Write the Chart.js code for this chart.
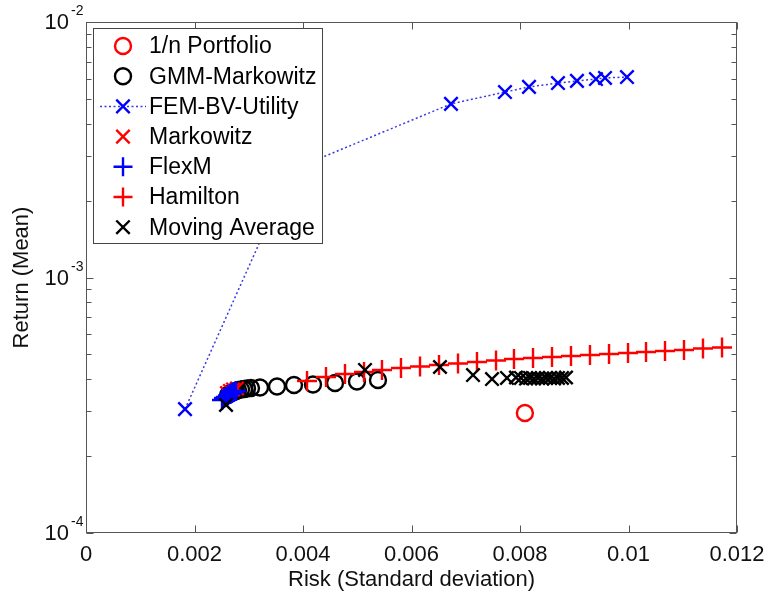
<!DOCTYPE html>
<html>
<head>
<meta charset="utf-8">
<script src="https://cdn.jsdelivr.net/npm/chart.js@4.4.1/dist/chart.umd.min.js"></script>
<style>
html,body{margin:0;padding:0;background:#fff;}
#wrap{width:769px;height:601px;position:relative;}
</style>
</head>
<body>
<div id="wrap"><canvas id="c" width="769" height="601"></canvas></div>
<script>
// ---------------- data ----------------
const seriesNames = ['1/n Portfolio','GMM-Markowitz','FEM-BV-Utility','Markowitz','FlexM','Hamilton','Moving Average'];
const xTickValues = [0, 0.002, 0.004, 0.006, 0.008, 0.01, 0.012];
const yTickExponents = [-4, -3, -2];
const xAxisTitle = 'Risk (Standard deviation)';
const yAxisTitle = 'Return (Mean)';

const oneOverNX = [0.00809];
const oneOverNY = [2.95e-4];

const gmmX = [0.002618,0.002654,0.002691,0.002728,0.002765,0.002802,0.002857,0.002912,0.002968,0.003041,0.003207,0.003521,0.003834,0.004184,0.00459,0.004995,0.005382];
const gmmY = [3.469e-4,3.516e-4,3.548e-4,3.580e-4,3.596e-4,3.629e-4,3.645e-4,3.661e-4,3.678e-4,3.694e-4,3.711e-4,3.745e-4,3.796e-4,3.813e-4,3.865e-4,3.917e-4,3.971e-4];

const femX = [0.001825,0.0038,0.006728,0.007723,0.008166,0.0087,0.00905,0.0094,0.009567,0.009972];
const femY = [3.055e-4,2.64e-3,4.78e-3,5.32e-3,5.57e-3,5.77e-3,5.88e-3,5.98e-3,6.04e-3,6.09e-3];

const markowitzX = [0.002599,0.002654,0.00271,0.002783];
const markowitzY = [3.531e-4,3.596e-4,3.645e-4,3.678e-4];

const flexmX = [0.002507,0.002544,0.002581,0.002618,0.002654,0.002691,0.002728,0.002765];
const flexmY = [3.315e-4,3.376e-4,3.406e-4,3.453e-4,3.499e-4,3.531e-4,3.564e-4,3.596e-4];

const hamiltonX = [0.004074,0.004424,0.004774,0.005125,0.005456,0.005806,0.006157,0.006507,0.006857,0.007207,0.007558,0.007889,0.00824,0.00859,0.00894,0.00929,0.009641,0.009991,0.010323,0.010673,0.011023,0.011373,0.011724];
const hamiltonY = [3.935e-4,4.079e-4,4.19e-4,4.267e-4,4.345e-4,4.424e-4,4.485e-4,4.545e-4,4.607e-4,4.67e-4,4.733e-4,4.797e-4,4.841e-4,4.885e-4,4.929e-4,4.974e-4,5.019e-4,5.064e-4,5.11e-4,5.156e-4,5.202e-4,5.273e-4,5.321e-4];

const movAvgX = [0.002581,0.005143,0.006525,0.007134,0.007484,0.00776,0.007926,0.008018,0.008111,0.008184,0.008258,0.008332,0.008406,0.008479,0.008553,0.008627,0.0087,0.008774,0.008848];
const movAvgY = [3.17e-4,4.345e-4,4.464e-4,4.153e-4,4.006e-4,4.043e-4,4.061e-4,4.043e-4,4.024e-4,4.043e-4,4.024e-4,4.043e-4,4.024e-4,4.043e-4,4.043e-4,4.024e-4,4.043e-4,4.043e-4,4.061e-4];

// ---------------- helpers ----------------
const FONT = '"Liberation Sans", Arial, Helvetica, sans-serif';
const RED = '#ff0000', BLUE = '#0000ff', BLACK = '#000000';
function pts(xs, ys){ return xs.map((x,i)=>({x:x, y:ys[i]})); }

const styles = [
  {style:'circle',   color:RED,   r:8,  line:false},
  {style:'circle',   color:BLACK, r:8,  line:false},
  {style:'crossRot', color:BLUE,  r:9.5,line:true},
  {style:'crossRot', color:RED,   r:9.5,line:false},
  {style:'cross',    color:BLUE,  r:10, line:false},
  {style:'cross',    color:RED,   r:10, line:false},
  {style:'crossRot', color:BLACK, r:9.5,line:false}
];
const seriesData = [
  pts(oneOverNX, oneOverNY), pts(gmmX, gmmY), pts(femX, femY),
  pts(markowitzX, markowitzY), pts(flexmX, flexmY), pts(hamiltonX, hamiltonY), pts(movAvgX, movAvgY)
];

const datasets = seriesNames.map((name, i) => {
  const s = styles[i];
  return {
    label: name,
    data: seriesData[i],
    showLine: s.line,
    borderColor: s.line ? '#3a3ae0' : s.color,
    borderWidth: 1.5,
    borderDash: s.line ? [2, 2.5] : [],
    pointStyle: s.style,
    pointRadius: s.r,
    pointHoverRadius: s.r,
    pointBorderColor: s.color,
    pointBackgroundColor: 'rgba(0,0,0,0)',
    pointBorderWidth: 2.4,
    order: seriesNames.length - i
  };
});

function drawMarker(ctx, style, x, y, r, color){
  ctx.save();
  ctx.strokeStyle = color; ctx.lineWidth = 2.4;
  ctx.beginPath();
  if (style === 'circle') {
    ctx.arc(x, y, r, 0, Math.PI*2);
  } else if (style === 'cross') {
    ctx.moveTo(x - r, y); ctx.lineTo(x + r, y);
    ctx.moveTo(x, y - r); ctx.lineTo(x, y + r);
  } else {
    const d = r * Math.SQRT1_2;
    ctx.moveTo(x - d, y - d); ctx.lineTo(x + d, y + d);
    ctx.moveTo(x + d, y - d); ctx.lineTo(x - d, y + d);
  }
  ctx.stroke();
  ctx.restore();
}

const framePlugin = {
  id: 'frameAndLegend',
  afterDraw(chart){
    const ctx = chart.ctx;
    const a = chart.chartArea;
    const xs = chart.scales.x, ys = chart.scales.y;
    const L = Math.round(a.left)+0.5, R = Math.round(a.right)-0.5, T = Math.round(a.top)+0.5, B = Math.round(a.bottom)-0.5;
    ctx.save();
    ctx.strokeStyle = '#555555';
    ctx.lineWidth = 1;
    ctx.strokeRect(L, T, R - L, B - T);
    ctx.beginPath();
    xTickValues.forEach(v => {
      const px = Math.round(xs.getPixelForValue(v)) + 0.5;
      ctx.moveTo(px, B); ctx.lineTo(px, B - 7);
      ctx.moveTo(px, T); ctx.lineTo(px, T + 7);
    });
    for (let e = yTickExponents[0]; e < yTickExponents[yTickExponents.length-1]; e++) {
      for (let m = 1; m <= 9; m++) {
        const v = m * Math.pow(10, e);
        const py = Math.round(ys.getPixelForValue(v)) + 0.5;
        const len = m === 1 ? 7 : 5;
        ctx.moveTo(L, py); ctx.lineTo(L + len, py);
        ctx.moveTo(R, py); ctx.lineTo(R - len, py);
      }
    }
    ctx.stroke();
    // y tick labels 10^e
    ctx.fillStyle = '#111111';
    yTickExponents.forEach(e => {
      const py = ys.getPixelForValue(Math.pow(10, e));
      ctx.font = '22px ' + FONT;
      ctx.textAlign = 'right'; ctx.textBaseline = 'middle';
      ctx.fillText('10', 69, py + 1);
      ctx.font = '14px ' + FONT;
      ctx.textAlign = 'left'; ctx.textBaseline = 'alphabetic';
      ctx.fillText('-' + Math.abs(e), 71, py - 7);
    });
    // legend
    const lx = 93.5, ly = 28.5, lw = 229, lh = 215;
    ctx.fillStyle = '#ffffff';
    ctx.fillRect(lx, ly, lw, lh);
    ctx.strokeStyle = '#444444';
    ctx.strokeRect(lx, ly, lw, lh);
    seriesNames.forEach((name, i) => {
      const s = styles[i];
      const cy = 46 + i * 30.2;
      if (s.line) {
        ctx.save();
        ctx.strokeStyle = '#3a3ae0'; ctx.lineWidth = 1.5; ctx.setLineDash([2, 2.5]);
        ctx.beginPath(); ctx.moveTo(100, cy); ctx.lineTo(146, cy); ctx.stroke();
        ctx.restore();
      }
      drawMarker(ctx, s.style, 123, cy, s.style === 'circle' ? 8 : 9.5, s.color);
      ctx.fillStyle = '#000000';
      ctx.font = '23px ' + FONT;
      ctx.textAlign = 'left'; ctx.textBaseline = 'middle';
      ctx.fillText(name, 149, cy + 1);
    });
    ctx.restore();
  }
};

new Chart(document.getElementById('c'), {
  type: 'scatter',
  data: { datasets },
  options: {
    responsive: false,
    animation: false,
    devicePixelRatio: 1,
    layout: { padding: { top: 22, right: 32, bottom: 0, left: 0 } },
    plugins: { legend: { display: false }, tooltip: { enabled: false } },
    scales: {
      x: {
        type: 'linear', min: 0, max: 0.012,
        grid: { display: false, drawTicks: false },
        border: { display: false },
        ticks: {
          stepSize: 0.002, padding: 9, color: '#111111',
          font: { family: FONT, size: 22 },
          maxRotation: 0, autoSkip: false,
          callback: v => String(Number(Number(v).toFixed(3)))
        },
        title: { display: true, text: xAxisTitle, color: '#111111', font: { family: FONT, size: 22 }, padding: { top: 0, bottom: 8 } },
        afterFit(scale){ scale.height = 68; scale.paddingLeft = 0; scale.paddingRight = 0; }
      },
      y: {
        type: 'logarithmic', min: 1e-4, max: 1e-2,
        grid: { display: false, drawTicks: false },
        border: { display: false },
        ticks: { display: false },
        title: { display: true, text: yAxisTitle, color: '#111111', font: { family: FONT, size: 22 }, padding: { top: 9, bottom: 0 } },
        afterFit(scale){ scale.width = 86; scale.paddingTop = 0; scale.paddingBottom = 0; }
      }
    }
  },
  plugins: [framePlugin]
});
</script>
</body>
</html>
